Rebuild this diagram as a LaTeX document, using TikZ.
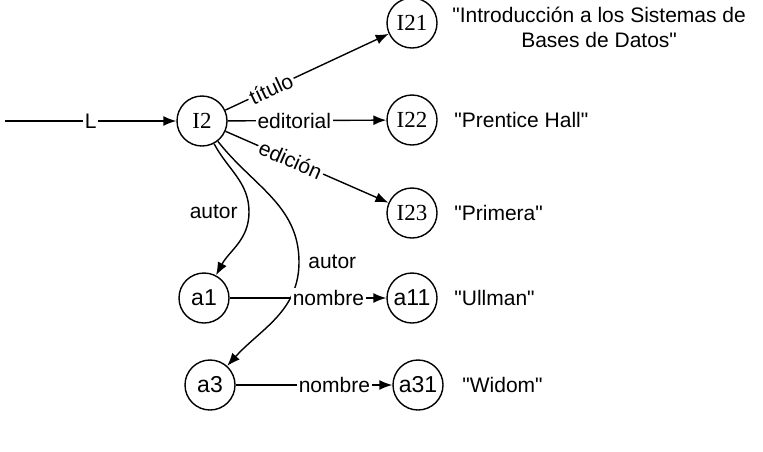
\documentclass[tikz,border=0pt]{standalone}
\usepackage{fontspec}
\setmainfont{Liberation Sans}
\newfontfamily\oidfont{Liberation Serif}
\usetikzlibrary{arrows.meta}

\begin{document}
\begin{tikzpicture}[x=0.5pt,y=0.5pt,font=\fontsize{10.5}{12.5}\selectfont,
    obj/.style={draw,circle,line width=0.7pt,minimum size=25pt,inner sep=0pt,
      font=\fontsize{11.5}{13}\selectfont},
    lbl/.style={fill=white,inner sep=1pt},
    val/.style={anchor=west,inner sep=0pt},
    edge/.style={line width=0.7pt,-{Latex[length=6.5pt,width=5pt]}}]
  \useasboundingbox (0,0) rectangle (763,-451);
  % objects
  \coordinate (start) at (5,-121);
  \node[obj] (I2) at (202,-121) {\oidfont I2};
  \node[obj] (I21) at (412,-23) {\oidfont I21};
  \node[obj] (I22) at (412,-120) {\oidfont I22};
  \node[obj] (I23) at (412,-213) {\oidfont I23};
  \node[obj] (a1) at (204,-298) {a1};
  \node[obj] (a11) at (412,-298) {a11};
  \node[obj] (a3) at (210,-385) {a3};
  \node[obj] (a31) at (418,-385) {a31};
  % atomic values
  \node[val,align=center] (v21) at (452,-27)
    {\textquotedbl Introducción a los Sistemas de\\Bases de Datos\textquotedbl};
  \node[val] (v22) at (454,-120) {\textquotedbl Prentice Hall\textquotedbl};
  \node[val] (v23) at (454,-213) {\textquotedbl Primera\textquotedbl};
  \node[val] (v11) at (454,-298) {\textquotedbl Ullman\textquotedbl};
  \node[val] (v31) at (462,-385) {\textquotedbl Widom\textquotedbl};
  % where the two autor arcs turn
  \coordinate (k1) at (249,-212);
  \coordinate (k2) at (299,-262);
  % references
  \draw[edge] (start) -- node[lbl] {L} (I2);
  \draw[edge] (I2) -- node[lbl,sloped,pos=0.28] {título} (I21);
  \draw[edge] (I2) -- node[lbl,pos=0.42] {editorial} (I22);
  \draw[edge] (I2) -- node[lbl,sloped,pos=0.4] {edición} (I23);
  \draw[edge] (I2) to[out=-62,in=90] (k1) node[left=2pt] {autor}
    to[out=-90,in=62] (a1);
  \draw[edge] (I2) to[out=-52,in=90] (k2) node[right=1pt] {autor}
    to[out=-90,in=48] (a3);
  \draw[edge] (a1) -- node[lbl,pos=0.63] {nombre} (a11);
  \draw[edge] (a3) -- node[lbl,pos=0.63] {nombre} (a31);
\end{tikzpicture}
\end{document}
